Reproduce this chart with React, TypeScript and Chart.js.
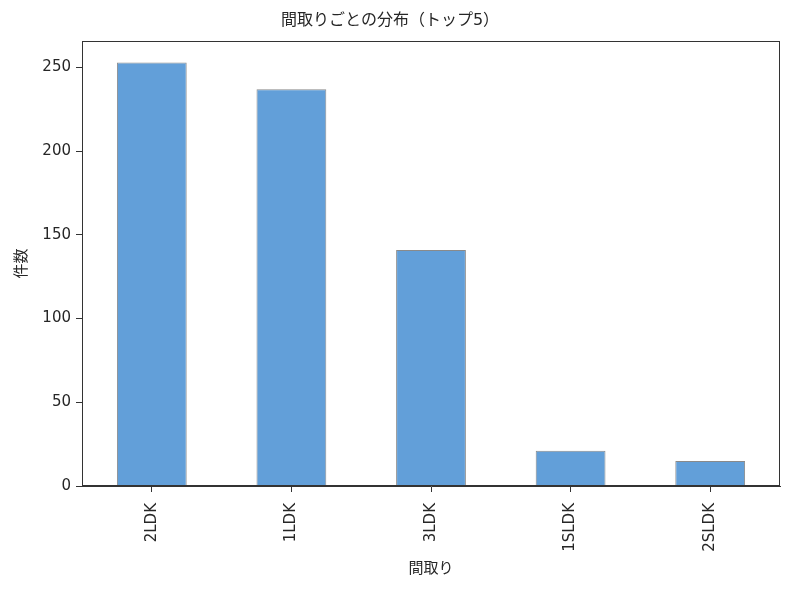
import React, { useEffect, useRef } from "react";
import { Chart, registerables } from "chart.js";

Chart.register(...registerables);

const categories = ["2LDK", "1LDK", "3LDK", "1SLDK", "2SLDK"];
const counts = [253, 237, 141, 21, 15];
const yTicks = [0, 50, 100, 150, 200, 250];
const titleText = "間取りごとの分布（トップ5）";
const xTitle = "間取り";
const yTitle = "件数";

const FONT = "'DejaVu Sans', 'Noto Sans CJK JP', sans-serif";
const TEXT = "#262626";
const AXIS = "#333333";

const framePlugin = {
  id: "frame",
  afterDatasetsDraw(chart: any) {
    const { ctx, chartArea } = chart;
    ctx.save();
    ctx.strokeStyle = AXIS;
    ctx.lineWidth = 1;
    ctx.strokeRect(
      Math.round(chartArea.left) + 0.5,
      Math.round(chartArea.top) + 0.5,
      Math.round(chartArea.right - chartArea.left) - 1,
      Math.round(chartArea.bottom - chartArea.top) - 1
    );
    ctx.restore();
  },
};

export default function App() {
  const ref = useRef<HTMLCanvasElement | null>(null);

  useEffect(() => {
    document.body.style.margin = "0";
    const canvas = ref.current;
    if (!canvas) return;
    const maxVal = Math.max(...counts) * 1.05;
    const chart = new Chart(canvas, {
      type: "bar",
      data: {
        labels: categories,
        datasets: [
          {
            data: counts,
            backgroundColor: "#629fd9",
            borderColor: "#8a8a8a",
            borderWidth: 1,
            categoryPercentage: 1,
            barPercentage: 0.5,
          },
        ],
      },
      plugins: [framePlugin],
      options: {
        responsive: false,
        animation: false,
        devicePixelRatio: 1,
        layout: { padding: { left: 0, right: 20, top: 0, bottom: 0 } },
        plugins: {
          legend: { display: false },
          tooltip: { enabled: false },
          title: {
            display: true,
            text: titleText,
            color: TEXT,
            font: { family: FONT, size: 16, weight: "normal" },
            padding: { top: 11, bottom: 11 },
          },
        },
        scales: {
          x: {
            offset: true,
            afterFit: (s: any) => {
              s.height = 107;
            },
            grid: {
              display: true,
              offset: false,
              drawOnChartArea: false,
              drawTicks: true,
              tickLength: 6,
              color: AXIS,
            },
            border: { display: true, color: AXIS },
            ticks: {
              color: TEXT,
              font: { family: FONT, size: 15 },
              minRotation: 90,
              maxRotation: 90,
              padding: 11,
            },
            title: {
              display: true,
              text: xTitle,
              color: TEXT,
              font: { family: FONT, size: 15 },
              padding: { top: 4, bottom: 15 },
            },
          },
          y: {
            min: 0,
            max: maxVal,
            afterFit: (s: any) => {
              s.width = 82;
            },
            afterBuildTicks: (s: any) => {
              s.ticks = yTicks.map((v) => ({ value: v }));
            },
            grid: {
              display: true,
              drawOnChartArea: false,
              drawTicks: true,
              tickLength: 6,
              color: AXIS,
            },
            border: { display: true, color: AXIS },
            ticks: {
              color: TEXT,
              font: { family: FONT, size: 15 },
              padding: 5,
            },
            title: {
              display: true,
              text: yTitle,
              color: TEXT,
              font: { family: FONT, size: 15 },
              padding: { top: 13, bottom: 4 },
            },
          },
        },
      },
    } as any);
    return () => chart.destroy();
  }, []);

  return (
    <div style={{ width: 800, height: 593, background: "#fff" }}>
      <canvas ref={ref} width={800} height={593} style={{ display: "block" }} />
    </div>
  );
}
